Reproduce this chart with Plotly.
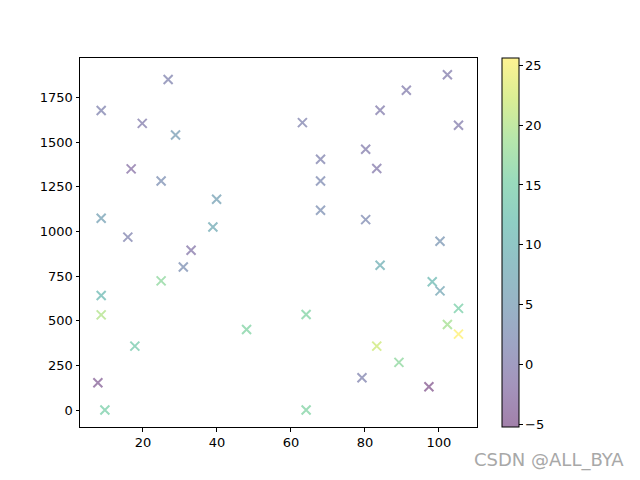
import plotly.graph_objects as go
import plotly.express as px

x_vals = [8.7, 26.8, 19.8, 28.8, 16.8, 24.9, 39.9, 8.7, 38.9, 15.9,
          33.0, 30.9, 24.9, 8.7, 8.7, 48.0, 17.8, 7.8, 9.7,
          102.3, 91.2, 84.1, 63.1, 105.3, 80.2, 68.0, 83.2, 68.0, 68.0, 80.2, 100.3,
          84.1, 98.2, 100.3, 105.3, 64.1, 102.3, 105.3, 83.2, 89.2, 79.2, 97.3, 64.1]
y_vals = [1677, 1851, 1605, 1540, 1350, 1282, 1180, 1074, 1025, 968,
          895, 801, 723, 641, 533, 451, 358, 153, 0,
          1877, 1790, 1678, 1609, 1594, 1460, 1404, 1352, 1282, 1119, 1066, 945,
          811, 718, 667, 569, 535, 479, 425, 358, 267, 181, 130, 0]
c_vals = [1, 1, 0, 5, -2, 3, 6, 6, 8, 1,
          -1, 3, 17, 11, 20, 16, 14, -4, 15,
          0, 0, 0, 1, 0, 0, 1, -0.5, 2, 3, 2, 4,
          9, 11, 7, 15, 16, 19, 25.6, 22, 17, 1, -5.2, 16]

cmin, cmax = -5.2, 25.6


def fade(hexc, a=0.5):
    h = hexc.lstrip('#')
    r, g, b = int(h[0:2], 16), int(h[2:4], 16), int(h[4:6], 16)
    return 'rgb(%d,%d,%d)' % (round(r * a + 255 * (1 - a)), round(g * a + 255 * (1 - a)), round(b * a + 255 * (1 - a)))


vir = px.colors.sequential.Viridis
n = len(vir)
scale = [[i / (n - 1), fade(c)] for i, c in enumerate(vir)]

fig = go.Figure()
fig.add_trace(go.Scatter(
    x=x_vals, y=y_vals, mode='markers',
    marker=dict(
        symbol='x-thin', size=9,
        color=c_vals, colorscale=scale, cmin=cmin, cmax=cmax, showscale=True,
        line=dict(width=2, color=c_vals, colorscale=scale, cmin=cmin, cmax=cmax),
        colorbar=dict(
            x=(502 - 80) / 397, xanchor='left', y=0.5, yanchor='middle',
            len=1.0, lenmode='fraction', thickness=17, thicknessmode='pixels',
            outlinewidth=1, outlinecolor='black',
            ticks='outside', ticklen=3.5, tickwidth=1, tickcolor='black',
            tickvals=[-5, 0, 5, 10, 15, 20, 25],
            tickfont=dict(family='DejaVu Sans', size=13, color='black'),
            xpad=0, ypad=0,
        ),
    ),
    showlegend=False,
))

axis_common = dict(showline=True, linecolor='black', linewidth=1, mirror=True,
                   ticks='outside', ticklen=3.5, tickwidth=1, tickcolor='black',
                   showgrid=False, zeroline=False,
                   tickfont=dict(family='DejaVu Sans', size=13, color='black'))

fig.update_xaxes(range=[2.97, 110.3], tickvals=[20, 40, 60, 80, 100], **axis_common)
fig.update_yaxes(range=[-95, 1971], tickvals=[0, 250, 500, 750, 1000, 1250, 1500, 1750], **axis_common)

fig.add_annotation(text='CSDN @ALL_BYA', xref='paper', yref='paper',
                   x=(626 - 80) / 397, y=(427.2 - 460) / 369.6,
                   xanchor='right', yanchor='middle', showarrow=False,
                   font=dict(family='DejaVu Sans', size=18, color='#a8a8a8'))

fig.update_layout(
    width=640, height=480,
    margin=dict(l=80, r=163, t=58, b=53, autoexpand=False),
    paper_bgcolor='white', plot_bgcolor='white',
    font=dict(family='DejaVu Sans', size=13, color='black'),
)

fig.write_html('out.html', config={'displayModeBar': False},
               post_script="document.body.style.margin='0';document.body.style.padding='0';")
